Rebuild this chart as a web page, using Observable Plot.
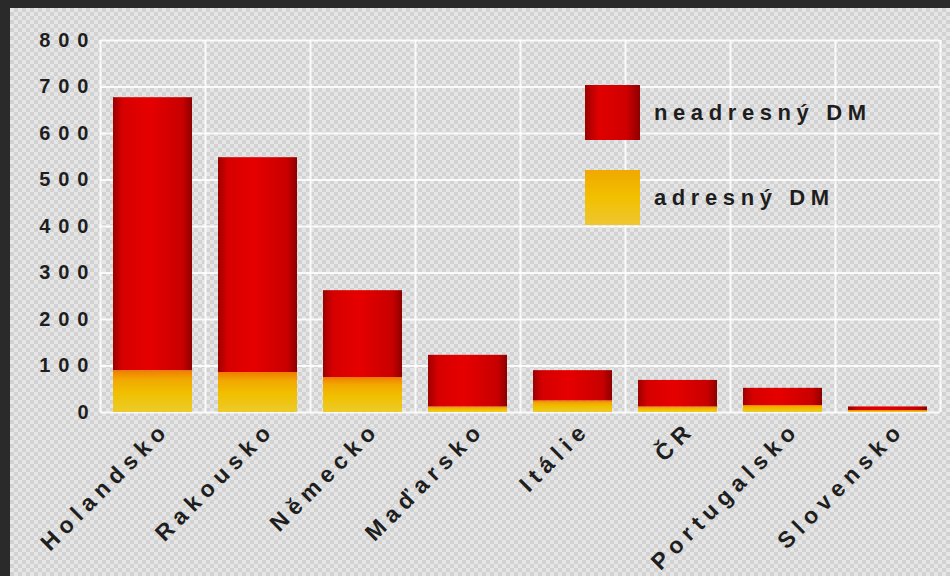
<!DOCTYPE html>
<html>
<head>
<meta charset="utf-8">
<script src="https://cdn.jsdelivr.net/npm/d3@7"></script>
<script src="https://cdn.jsdelivr.net/npm/@observablehq/plot@0.6"></script>
<style>
  html, body { margin: 0; padding: 0; background: #2a2a2a; width: 950px; height: 576px; overflow: hidden; }
  #panel {
    position: absolute; left: 10px; top: 8px; width: 940px; height: 568px;
    background-color: #dcdcdc;
    background-image: conic-gradient(#d2d2d2 25%, #e6e6e6 0 50%, #d2d2d2 0 75%, #e6e6e6 0);
    background-size: 8px 8px;
    font-family: "Liberation Sans", Arial, sans-serif;
  }
  #legend { position: absolute; left: 575px; top: 77px; }
  .item { position: absolute; display: flex; align-items: center; white-space: nowrap; }
  .sw { width: 55px; height: 55px; margin-right: 14px; }
  .lab { font-weight: bold; font-size: 22px; letter-spacing: 5.6px; color: #1e1e1e; }
</style>
</head>
<body>
<div id="panel">
  <div id="chart"></div>
  <div id="legend"></div>
</div>
<script>
const countries = ["Holandsko", "Rakousko", "Německo", "Maďarsko", "Itálie", "ČR", "Portugalsko", "Slovensko"];
const adresny = [90, 86, 75, 12, 25, 12, 15, 4];
const neadresny = [587, 462, 187, 111, 65, 57, 37, 8];
const seriesNames = ["adresný DM", "neadresný DM"];
const yTicks = [0, 100, 200, 300, 400, 500, 600, 700, 800];

const data = [];
countries.forEach((c, i) => {
  data.push({country: c, series: seriesNames[0], value: adresny[i]});
  data.push({country: c, series: seriesNames[1], value: neadresny[i]});
});

const width = 940, height = 568;
const mL = 90, mR = 10;
const pInner = 0.25, pOuter = 0.125;
const step = (width - mL - mR) / (countries.length - pInner + 2 * pOuter);

const chart = Plot.plot({
  width, height,
  marginLeft: mL, marginRight: mR, marginTop: 32, marginBottom: 164,
  style: {background: "transparent", fontFamily: "Liberation Sans, Arial, sans-serif"},
  x: {domain: countries, paddingInner: pInner, paddingOuter: pOuter, label: null},
  y: {domain: [0, 800], label: null},
  color: {domain: seriesNames, range: ["url(#gYellow)", "url(#gRed)"]},
  marks: [
    Plot.ruleY(yTicks, {stroke: "#ffffff", strokeWidth: 2, strokeOpacity: 0.85}),
    Plot.ruleX(countries, {x: d => d, dx: -step / 2, stroke: "#ffffff", strokeWidth: 2, strokeOpacity: 0.85}),
    Plot.ruleX(countries.slice(-1), {x: d => d, dx: step / 2, stroke: "#ffffff", strokeWidth: 2, strokeOpacity: 0.85}),
    Plot.barY(data, Plot.stackY({x: "country", y: "value", fill: "series", order: seriesNames})),
    Plot.axisY({ticks: yTicks, tickSize: 0, tickPadding: 4, tickFormat: d => d, fontSize: 20, fontWeight: "bold", fill: "#1e1e1e", label: null}),
    Plot.axisX({tickSize: 0, tickPadding: 13, tickRotate: -45, fontSize: 23, fontWeight: "bold", fill: "#1e1e1e", dx: 13, label: null})
  ]
});

const svgNS = "http://www.w3.org/2000/svg";
const defs = document.createElementNS(svgNS, "defs");
defs.innerHTML = `
  <linearGradient id="gRed" x1="0" y1="0" x2="1" y2="0">
    <stop offset="0" stop-color="#9c0000"/>
    <stop offset="0.12" stop-color="#d60000"/>
    <stop offset="0.45" stop-color="#e60000"/>
    <stop offset="0.88" stop-color="#c80000"/>
    <stop offset="1" stop-color="#8e0000"/>
  </linearGradient>
  <linearGradient id="gYellow" x1="0" y1="0" x2="0" y2="1">
    <stop offset="0" stop-color="#ef7c00"/>
    <stop offset="0.22" stop-color="#f2a800"/>
    <stop offset="0.55" stop-color="#f0c000"/>
    <stop offset="1" stop-color="#eccb2a"/>
  </linearGradient>`;
chart.insertBefore(defs, chart.firstChild);

chart.querySelectorAll("[aria-label='y-axis tick label'] text").forEach(t => t.style.letterSpacing = "8px");
chart.querySelectorAll("[aria-label='x-axis tick label'] text").forEach(t => t.style.letterSpacing = "6px");

document.getElementById("chart").appendChild(chart);

const legend = document.getElementById("legend");
const legendItems = [
  {name: seriesNames[1], fill: "linear-gradient(90deg,#9c0000,#e00000 25%,#d00000 75%,#8e0000)", top: 0},
  {name: seriesNames[0], fill: "linear-gradient(180deg,#f0a800,#f2c000 50%,#eec630)", top: 85}
];
legendItems.forEach(it => {
  const row = document.createElement("div");
  row.className = "item";
  row.style.top = it.top + "px";
  const sw = document.createElement("div");
  sw.className = "sw";
  sw.style.background = it.fill;
  const lab = document.createElement("span");
  lab.className = "lab";
  lab.textContent = it.name;
  row.appendChild(sw); row.appendChild(lab);
  legend.appendChild(row);
});
</script>
</body>
</html>
